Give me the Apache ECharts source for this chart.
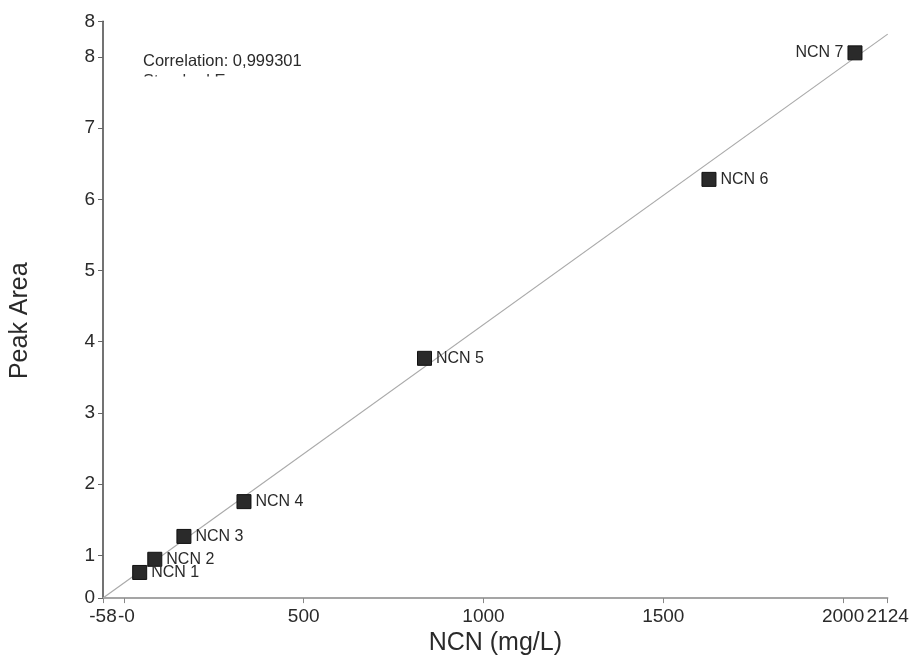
<!DOCTYPE html>
<html>
<head>
<meta charset="utf-8">
<script src="https://cdn.jsdelivr.net/npm/echarts@6/dist/echarts.min.js"></script>
<style>html,body{margin:0;padding:0;background:#fff;}#c{width:915px;height:661px;}</style>
</head>
<body>
<div id="c"></div>
<script>
var pointNames = ['NCN 1','NCN 2','NCN 3','NCN 4','NCN 5','NCN 6','NCN 7'];
var concentrations = [44, 86, 167, 334, 836, 1627, 2033];
var peakAreas = [0.36, 0.545, 0.866, 1.355, 3.367, 5.88, 7.657];
var fitX = [-58, 2124];
var fitY = [0.0, 7.92];
var xTickValues = [-58, 500, 1000, 1500, 2000, 2124];
var xTickLabels = ['-58', '500', '1000', '1500', '2000', '2124'];
var xZeroTickValues = [0];
var xZeroTickLabels = ['-0'];
var yTickValues = [0, 0.6, 1.6, 2.6, 3.6, 4.6, 5.6, 6.6, 7.6, 8.1];
var yTickLabels = ['0', '1', '2', '3', '4', '5', '6', '7', '8', '8'];
var correlationText = 'Correlation: 0,999301';
var stdErrText = 'Standard Error:';

var chart = echarts.init(document.getElementById('c'), null, {renderer: 'canvas'});
var font = 'Arial, "Liberation Sans", sans-serif';
var scatterData = concentrations.map(function (x, i) {
  return {
    name: pointNames[i],
    value: [x, peakAreas[i]],
    label: {position: i === 6 ? 'left' : 'right'}
  };
});
function lookup(vals, labels) {
  return function (v) {
    for (var i = 0; i < vals.length; i++) { if (Math.abs(vals[i] - v) < 1e-9) return labels[i]; }
    return '';
  };
}
chart.setOption({
  animation: false,
  backgroundColor: '#fff',
  grid: {left: 103, right: 27.3, top: 21.3, bottom: 60},
  xAxis: [{
    type: 'value', min: -58, max: 2124,
    name: 'NCN (mg/L)', nameLocation: 'middle', nameGap: 27,
    nameTextStyle: {fontFamily: font, fontSize: 25, color: '#2a2a2a'},
    splitLine: {show: false},
    axisLine: {onZero: false, lineStyle: {color: '#888', width: 1.5}},
    axisTick: {show: true, length: 5, lineStyle: {color: '#888'}, customValues: xTickValues},
    axisLabel: {
      customValues: xTickValues, margin: 9, hideOverlap: false,
      showMinLabel: true, showMaxLabel: true,
      fontFamily: font, fontSize: 19, color: '#2a2a2a',
      formatter: lookup(xTickValues, xTickLabels)
    }
  }, {
    type: 'value', min: -58, max: 2124, position: 'bottom', offset: 0,
    splitLine: {show: false},
    axisLine: {show: false, onZero: false},
    axisTick: {show: true, length: 5, lineStyle: {color: '#888'}, customValues: xZeroTickValues},
    axisLabel: {
      customValues: xZeroTickValues, margin: 9, hideOverlap: false,
      padding: [0, 0, 0, 5],
      fontFamily: font, fontSize: 19, color: '#2a2a2a',
      formatter: lookup(xZeroTickValues, xZeroTickLabels)
    }
  }],
  yAxis: {
    type: 'value', min: 0, max: 8.1,
    name: 'Peak Area', nameLocation: 'middle', nameGap: 70,
    nameTextStyle: {fontFamily: font, fontSize: 25, color: '#2a2a2a', padding: [0, 22, 0, 0]},
    splitLine: {show: false},
    axisLine: {onZero: false, lineStyle: {color: '#444', width: 1.5}},
    axisTick: {show: true, length: 5, lineStyle: {color: '#666'}, customValues: yTickValues},
    axisLabel: {
      customValues: yTickValues, margin: 8, hideOverlap: false,
      showMinLabel: true, showMaxLabel: true,
      fontFamily: font, fontSize: 19, color: '#2a2a2a',
      formatter: lookup(yTickValues, yTickLabels)
    }
  },
  graphic: [
    {type: 'text', left: 143, top: 73, z: 10,
     style: {text: stdErrText, font: '16.5px Arial, "Liberation Sans", sans-serif', fill: '#333'}},
    {type: 'rect', left: 138, top: 76.5, z: 11,
     shape: {width: 200, height: 18}, style: {fill: '#fff'}},
    {type: 'text', left: 143, top: 53, z: 12,
     style: {text: correlationText, font: '16.5px Arial, "Liberation Sans", sans-serif', fill: '#2a2a2a'}}
  ],
  series: [
    {
      type: 'line', data: fitX.map(function (x, i) { return [x, fitY[i]]; }),
      showSymbol: false, silent: true, z: 1,
      lineStyle: {color: '#aaa', width: 1.2}
    },
    {
      type: 'scatter', data: scatterData, symbol: 'rect', symbolSize: 14, z: 3,
      itemStyle: {color: '#2a2a2a', borderColor: '#111', borderWidth: 1, opacity: 1},
      label: {
        show: true, distance: 4, formatter: '{b}',
        fontFamily: font, fontSize: 16, color: '#2a2a2a'
      }
    }
  ]
});
</script>
</body>
</html>
